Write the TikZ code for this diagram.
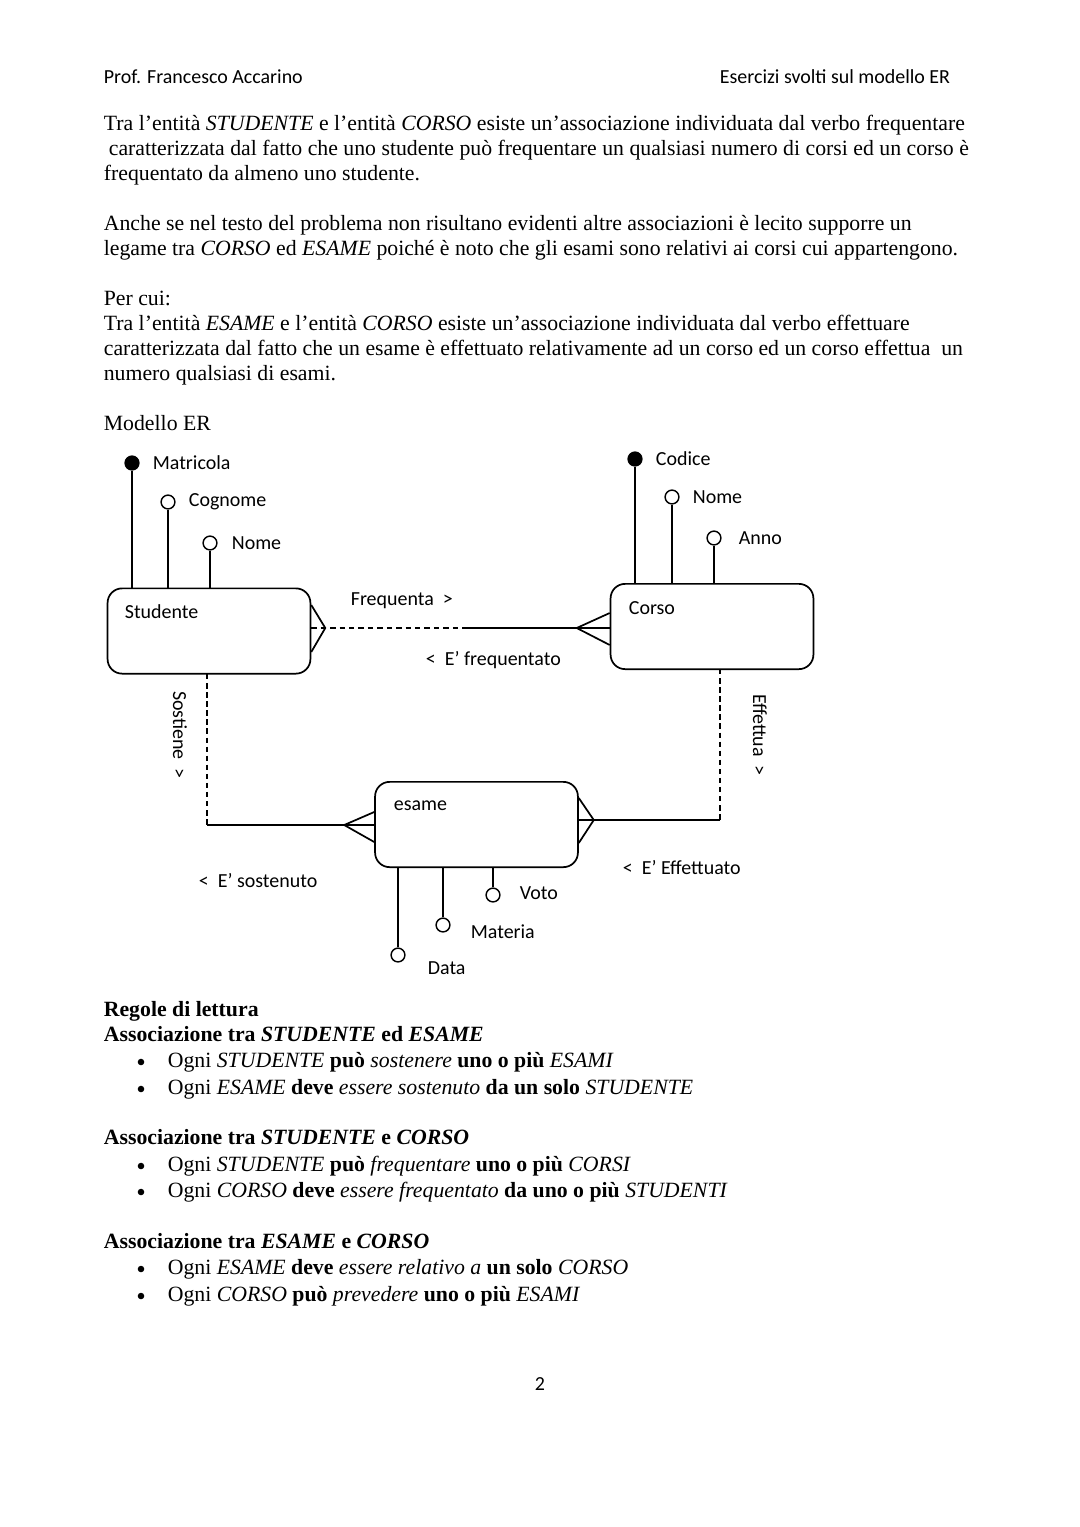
\documentclass[tikz,border=0pt]{standalone}
\usepackage{fontspec}
\setmainfont{Liberation Serif}
\newfontfamily\calfont{Carlito}
\usetikzlibrary{calc}
\begin{document}
\begin{tikzpicture}[x=0.5512pt,y=-0.5512pt,line width=0.95pt,
  body/.style={anchor=base west,inner sep=0pt,font=\fontsize{12}{14}\selectfont},
  lab/.style={anchor=west,inner sep=0pt,font=\calfont\fontsize{11}{13}\selectfont},
  ent/.style={draw,rounded corners=8pt,minimum width=111.8pt,minimum height=47pt,inner sep=0pt},
  keyattr/.style={circle,draw,fill=black,minimum size=7.6pt,inner sep=0pt,line width=0.8pt},
  attr/.style={circle,draw,fill=white,minimum size=7.6pt,inner sep=0pt,line width=0.8pt},
  bul/.style={circle,fill=black,minimum size=3.6pt,inner sep=0pt},
  dsh/.style={dash pattern=on 3pt off 2.2pt},
  vdsh/.style={line width=0.6pt,dash pattern=on 3pt off 2pt}]
\useasboundingbox[fill=white] (0,0) rectangle (1080,1527);

% header
\node[lab] (h1) at (103,77) {Prof. Francesco Accarino};
\node[lab,anchor=east] (h2) at (951,77) {Esercizi svolti sul modello ER};

% text
\node[body] (t1) at (103,130) {\makebox[474.6pt][s]{Tra l’entità \textit{STUDENTE} e l’entità \textit{CORSO} esiste un’associazione individuata dal verbo frequentare}};
\node[body] (t2) at (108,155) {\makebox[474pt][s]{caratterizzata dal fatto che uno studente può frequentare un qualsiasi numero di corsi ed un corso è}};
\node[body] (t3) at (103,180) {frequentato da almeno uno studente.};
\node[body] (t4) at (103,230) {Anche se nel testo del problema non risultano evidenti altre associazioni è lecito supporre un};
\node[body] (t5) at (103,255) {legame tra \textit{CORSO} ed \textit{ESAME} poiché è noto che gli esami sono relativi ai corsi cui appartengono.};
\node[body] (t6) at (103,305) {Per cui:};
\node[body] (t7) at (103,330) {Tra l’entità \textit{ESAME} e l’entità \textit{CORSO} esiste un’associazione individuata dal verbo effettuare};
\node[body] (t8) at (103,355) {\makebox[473.5pt][s]{caratterizzata dal fatto che un esame è effettuato relativamente ad un corso ed un corso effettua\ \ un}};
\node[body] (t9) at (103,380) {numero qualsiasi di esami.};
\node[body] (t10) at (103,430) {Modello ER};

% entities
\node[ent] (stud) at (209,631) {};
\node[ent] (corso) at (712,626.5) {};
\node[ent] (esame) at (476.5,824.5) {};
\node[lab] (studl) at (124,612) {Studente};
\node[lab] (corsol) at (628,608) {Corso};
\node[lab] (esamel) at (393,806) {esame};

% Studente attributes
\node[keyattr] (matr) at (132,463) {};
\node[attr] (cogn) at (168,502) {};
\node[attr] (snome) at (210,543) {};
\draw (matr) -- (matr |- stud.north);
\draw (cogn) -- (cogn |- stud.north);
\draw (snome) -- (snome |- stud.north);
\node[lab] (matrl) at (152,463) {Matricola};
\node[lab] (cognl) at (188,502) {Cognome};
\node[lab] (snomel) at (231,543) {Nome};

% Corso attributes
\node[keyattr] (cod) at (635,459) {};
\node[attr] (cnome) at (672,497) {};
\node[attr] (anno) at (714,538) {};
\draw (cod) -- (cod |- corso.north);
\draw (cnome) -- (cnome |- corso.north);
\draw (anno) -- (anno |- corso.north);
\node[lab] (codl) at (655,459) {Codice};
\node[lab] (cnomel) at (692,497) {Nome};
\node[lab] (annol) at (738,538) {Anno};

% Esame attributes
\node[attr] (data) at (398,955) {};
\node[attr] (mat) at (443,925) {};
\node[attr] (voto) at (493,895) {};
\draw (data) -- (data |- esame.south);
\draw (mat) -- (mat |- esame.south);
\draw (voto) -- (voto |- esame.south);
\node[lab] (datal) at (427,968) {Data};
\node[lab] (matl) at (470,932) {Materia};
\node[lab] (votol) at (519,893) {Voto};

% Frequenta
\coordinate (fS) at (stud.east |- 0,628);
\coordinate (fC) at (corso.west |- 0,628);
\coordinate (fM) at (462,628);
\draw[dsh] (fS) -- (fM);
\draw (fM) -- (fC);
\draw ($(fS)+(0,-23)$) -- ($(fS)+(14,0)$) -- ($(fS)+(0,24)$);
\draw ($(fC)+(-33,0)$) -- ($(fC)+(0,-15)$);
\draw ($(fC)+(-33,0)$) -- ($(fC)+(0,17)$);
\node[lab] (freq) at (350,601) {Frequenta \ >};
\node[lab] (efreq) at (425,660) {< \ E’ frequentato};

% Sostiene
\coordinate (sS) at (207,674);
\coordinate (sK) at (207,825);
\coordinate (sE) at (esame.west |- 0,825);
\draw[vdsh] (sS) -- (sK);
\draw (sK) -- (sE);
\draw ($(sE)+(-30,0)$) -- ($(sE)+(0,-13)$);
\draw ($(sE)+(-30,0)$) -- ($(sE)+(0,17)$);
\node[lab,rotate=-90,anchor=center] (sost) at (180,735) {Sostiene \ >};
\node[lab] (esost) at (198,881) {< \ E’ sostenuto};

% Effettua
\coordinate (eC) at (720,669);
\coordinate (eK) at (720,820);
\coordinate (eE) at (esame.east |- 0,820);
\draw[vdsh] (eC) -- (eK);
\draw (eK) -- (eE);
\draw ($(eE)+(0,-22)$) -- ($(eE)+(15,0)$) -- ($(eE)+(0,23)$);
\node[lab,rotate=-90,anchor=center] (eff) at (760,735) {Effettua \ >};
\node[lab] (eeff) at (622,868) {< \ E’ Effettuato};

% rules
\node[body] (r0) at (103,1016) {\textbf{Regole di lettura}};
\node[body] (r1) at (103,1041) {\textbf{Associazione tra \textit{STUDENTE} ed \textit{ESAME}}};
\node[bul] (b1) at (141,1062) {};
\node[body] (r2) at (167,1067) {Ogni \textit{STUDENTE} \textbf{può} \textit{sostenere} \textbf{uno o più} \textit{ESAMI}};
\node[bul] (b2) at (141,1089) {};
\node[body] (r3) at (167,1094) {Ogni \textit{ESAME} \textbf{deve} \textit{essere sostenuto} \textbf{da un solo} \textit{STUDENTE}};
\node[body] (r4) at (103,1144) {\textbf{Associazione tra \textit{STUDENTE} e \textit{CORSO}}};
\node[bul] (b3) at (141,1166) {};
\node[body] (r5) at (167,1171) {Ogni \textit{STUDENTE} \textbf{può} \textit{frequentare} \textbf{uno o più} \textit{CORSI}};
\node[bul] (b4) at (141,1192) {};
\node[body] (r6) at (167,1197) {Ogni \textit{CORSO} \textbf{deve} \textit{essere frequentato} \textbf{da uno o più} \textit{STUDENTI}};
\node[body] (r7) at (103,1248) {\textbf{Associazione tra \textit{ESAME} e \textit{CORSO}}};
\node[bul] (b5) at (141,1269) {};
\node[body] (r8) at (167,1274) {Ogni \textit{ESAME} \textbf{deve} \textit{essere relativo a} \textbf{un solo} \textit{CORSO}};
\node[bul] (b6) at (141,1296) {};
\node[body] (r9) at (167,1301) {Ogni \textit{CORSO} \textbf{può} \textit{prevedere} \textbf{uno o più} \textit{ESAMI}};

\node[lab,anchor=center] (pg) at (540,1384) {2};
\end{tikzpicture}
\end{document}
